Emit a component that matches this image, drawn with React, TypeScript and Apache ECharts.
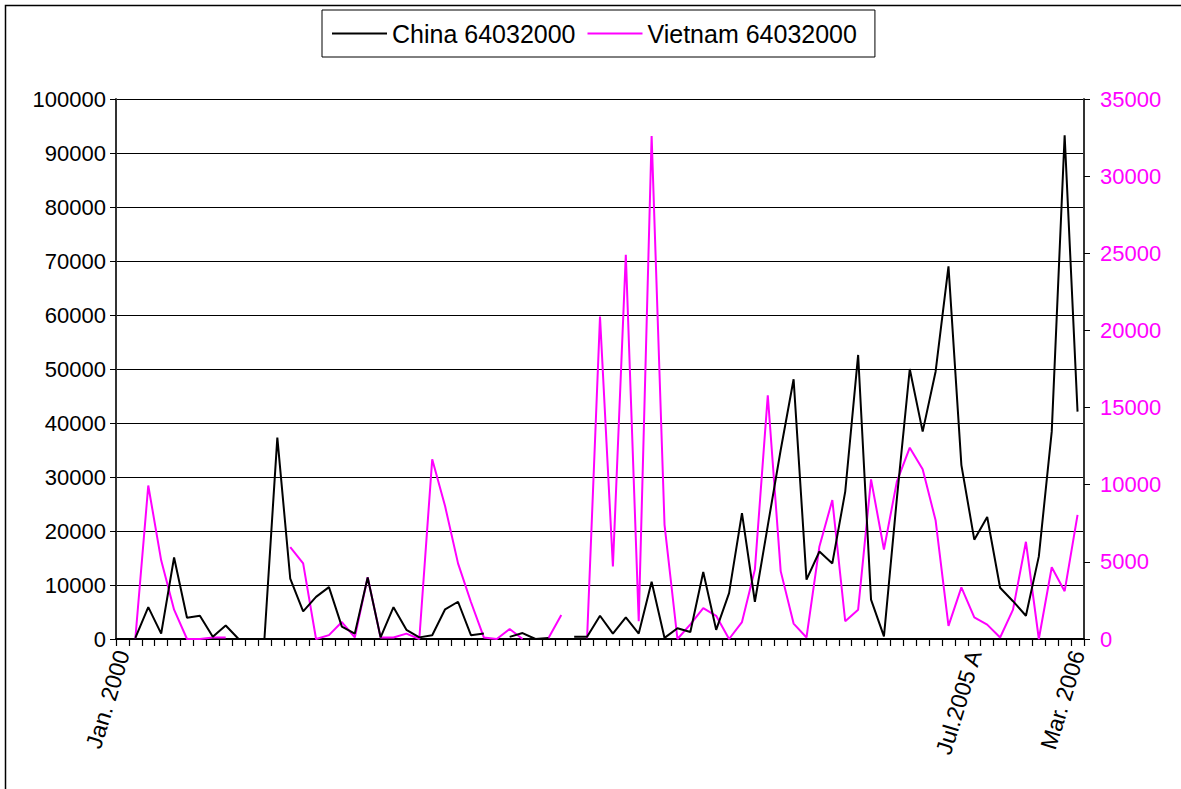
import React, { useEffect, useRef } from "react";
import * as echarts from "echarts";

// Months Jan. 2000 .. Mar. 2006 (75 categories)
const months: string[] = [];
for (let y = 2000; y <= 2006; y++) {
  for (let m = 1; m <= 12; m++) {
    if (y === 2006 && m > 3) break;
    months.push(`${y}-${String(m).padStart(2, "0")}`);
  }
}

// Tick labels shown on the category axis (index -> text)
const tickLabelIndex = [0, 66, 74];
const tickLabelText = ["Jan. 2000", "Jul.2005 A", "Mar. 2006"];

const seriesNames = ["China 64032000", "Vietnam 64032000"];

const china: (number | null)[] = [
  null, 200, 5900, 1000, 15100, 3950, 4300, 400, 2500, 0,
  0, 0, 37300, 11200, 5100, 7800, 9600, 2300, 1000, 11400,
  300, 5900, 1700, 300, 700, 5500, 6900, 700, 1000, null,
  400, 1100, 0, 200, null, 400, 400, 4300, 1000, 4000,
  1000, 10600, 200, 2000, 1300, 12400, 1700, 8500, 23300, 6900,
  21000, 35000, 48100, 11000, 16200, 14000, 27300, 52600, 7300, 500,
  26000, 50000, 38400, 49500, 69000, 32200, 18400, 22600, 9500, 7000,
  4300, 15300, 38400, 93300, 42100,
];

const vietnam: (number | null)[] = [
  null, 50, 9950, 5100, 1900, 0, 0, 100, 100, null,
  null, null, null, 5950, 4900, 0, 250, 1100, 100, 4000,
  100, 100, 350, 0, 11650, 8600, 4900, 2400, 100, 0,
  650, 0, null, 50, 1550, null, 50, 20900, 4700, 24900,
  1150, 32600, 7400, 0, 950, 2000, 1500, 0, 1100, 4500,
  15800, 4400, 1000, 100, 6000, 9000, 1150, 1900, 10350, 5800,
  10200, 12400, 11000, 7700, 850, 3350, 1400, 930, 100, 1900,
  6300, 0, 4650, 3100, 8050,
];

const FONT = "'Liberation Sans', Arial, sans-serif";

export default function App() {
  const ref = useRef<HTMLDivElement>(null);
  useEffect(() => {
    document.body.style.margin = "0";
    if (!ref.current) return;
    const chart = echarts.init(ref.current, null, { renderer: "svg" });
    chart.setOption({
      animation: false,
      backgroundColor: "#ffffff",
      graphic: [
        {
          type: "rect",
          left: 3,
          top: 3,
          shape: { x: 0, y: 0, width: 1200, height: 800 },
          style: { fill: "none", stroke: "#000", lineWidth: 1.5 },
          silent: true,
        },
      ],
      legend: {
        left: 322,
        top: 10,
        padding: [11, 18, 11, 10],
        itemGap: 12,
        itemWidth: 55,
        itemHeight: 2,
        icon: "rect",
        borderColor: "#000",
        borderWidth: 1,
        textStyle: { fontFamily: FONT, fontSize: 25, color: "#000" },
        data: seriesNames,
      },
      grid: { left: 116, right: 97, top: 99, bottom: 150, containLabel: false },
      xAxis: {
        type: "category",
        data: months,
        boundaryGap: true,
        axisLine: { show: true, lineStyle: { color: "#000", width: 2 } },
        axisTick: {
          show: true,
          interval: 0,
          alignWithLabel: false,
          length: 7,
          lineStyle: { color: "#000", width: 1.2 },
        },
        axisLabel: {
          interval: 0,
          rotate: 73,
          margin: 12,
          fontFamily: FONT,
          fontSize: 23,
          color: "#000",
          formatter: (_v: string, i: number) => {
            const k = tickLabelIndex.indexOf(i);
            return k >= 0 ? tickLabelText[k] : "";
          },
        },
        splitLine: { show: false },
      },
      yAxis: [
        {
          type: "value",
          min: 0,
          max: 100000,
          interval: 10000,
          axisLine: { show: true, lineStyle: { color: "#333", width: 2 } },
          axisTick: { show: true, length: 6, lineStyle: { color: "#000" } },
          axisLabel: {
            margin: 10,
            fontFamily: FONT,
            fontSize: 22,
            color: "#000",
            formatter: (v: number) => String(v),
          },
          splitLine: { show: true, lineStyle: { color: "#000", width: 1 } },
        },
        {
          type: "value",
          min: 0,
          max: 35000,
          interval: 5000,
          position: "right",
          axisLine: { show: true, lineStyle: { color: "#333", width: 2 } },
          axisTick: { show: true, length: 6, lineStyle: { color: "#000" } },
          axisLabel: {
            margin: 16,
            fontFamily: FONT,
            fontSize: 22,
            color: "#FF00FF",
            formatter: (v: number) => String(v),
          },
          splitLine: { show: false },
        },
      ],
      series: [
        {
          name: seriesNames[0],
          type: "line",
          yAxisIndex: 0,
          data: china,
          symbol: "none",
          connectNulls: false,
          lineStyle: { color: "#000000", width: 2 },
          itemStyle: { color: "#000000" },
          z: 3,
        },
        {
          name: seriesNames[1],
          type: "line",
          yAxisIndex: 1,
          data: vietnam,
          symbol: "none",
          connectNulls: false,
          lineStyle: { color: "#FF00FF", width: 2 },
          itemStyle: { color: "#FF00FF" },
          z: 2,
        },
      ],
    });
    return () => chart.dispose();
  }, []);
  return <div ref={ref} style={{ width: 1181, height: 789 }} />;
}
